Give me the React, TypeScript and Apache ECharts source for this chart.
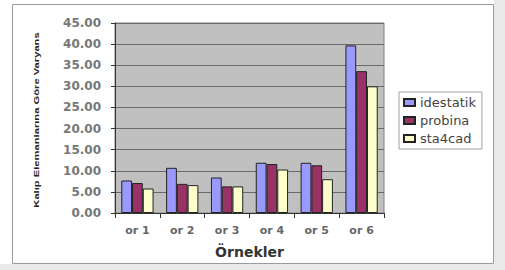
import React, { useEffect, useRef } from "react";
import * as echarts from "echarts";

const categories = ["or 1", "or 2", "or 3", "or 4", "or 5", "or 6"];
const idestatik = [7.7, 10.7, 8.4, 11.9, 11.9, 39.7];
const probina = [7.1, 6.9, 6.3, 11.6, 11.3, 33.6];
const sta4cad = [5.8, 6.6, 6.3, 10.3, 8.0, 30.0];
const seriesNames = ["idestatik", "probina", "sta4cad"];
const seriesColors = ["#9999ff", "#993366", "#ffffcc"];
const yTitle = "Kalıp Elemanlarına Göre Varyans";

export default function App() {
  const ref = useRef<HTMLDivElement>(null);
  useEffect(() => {
    if (!ref.current) return;
    const chart = echarts.init(ref.current, null, { renderer: "svg" });
    const data = [idestatik, probina, sta4cad];
    chart.setOption({
      animation: false,
      backgroundColor: "#ffffff",
      graphic: [
        { type: "rect", z: -10, shape: { x: 0, y: 0, width: 505, height: 270 }, style: { fill: "#e9e9e9" } },
        { type: "rect", z: -9, shape: { x: 0, y: 0, width: 494, height: 264 }, style: { fill: "#ffffff" } },
        { type: "rect", z: -8, shape: { x: 12.5, y: 4.5, width: 481, height: 259 }, style: { fill: "#ffffff", stroke: "#9a9a9a", lineWidth: 1 } },
        {
          type: "text",
          x: 37,
          y: 120,
          rotation: Math.PI / 2,
          scaleX: 1.6,
          style: {
            text: yTitle,
            fontSize: 7,
            fontWeight: "bold",
            fontFamily: "Liberation Sans",
            fill: "#222",
            align: "center",
            verticalAlign: "middle",
          },
        },
      ],
      grid: { left: 115, right: 121, top: 23, bottom: 57, show: true, backgroundColor: "#c0c0c0", borderColor: "#808080", borderWidth: 1 },
      legend: {
        orient: "vertical",
        left: 399,
        top: 92,
        itemWidth: 11,
        itemHeight: 7,
        itemGap: 5,
        icon: "rect",
        padding: [4, 6, 4, 4],
        borderColor: "#a0a0a0",
        borderWidth: 1,
        textStyle: { fontSize: 13, color: "#444", fontFamily: "DejaVu Sans" },
        data: seriesNames,
      },
      xAxis: {
        type: "category",
        data: categories,
        name: "Örnekler",
        nameLocation: "middle",
        nameGap: 32,
        nameTextStyle: { fontSize: 14, fontWeight: "bold", color: "#333", fontFamily: "DejaVu Sans" },
        axisLine: { lineStyle: { color: "#333" } },
        axisTick: { show: true, alignWithLabel: false, lineStyle: { color: "#333" } },
        axisLabel: { fontSize: 11, fontWeight: "bold", color: "#666", margin: 12, fontFamily: "DejaVu Sans" },
      },
      yAxis: {
        type: "value",
        min: 0,
        max: 45,
        interval: 5,
        axisLine: { show: true, lineStyle: { color: "#333" } },
        axisTick: { show: true, length: 4, lineStyle: { color: "#333" } },
        splitLine: { lineStyle: { color: "#6a6a6a" } },
        axisLabel: {
          fontSize: 12,
          fontWeight: "bold",
          color: "#777",
          fontFamily: "DejaVu Sans",
          margin: 14,
          formatter: (v: number) => v.toFixed(2),
        },
      },
      series: seriesNames.map((name, i) => ({
        name,
        type: "bar",
        data: data[i],
        barGap: "0%",
        barCategoryGap: "28%",
        itemStyle: { color: seriesColors[i], borderColor: "#222", borderWidth: 1 },
      })),
    });
    return () => chart.dispose();
  }, []);
  return (
    <div style={{ position: "fixed", left: 0, top: 0, width: 505, height: 270 }}>
      <div ref={ref} style={{ width: 505, height: 270 }} />
    </div>
  );
}
